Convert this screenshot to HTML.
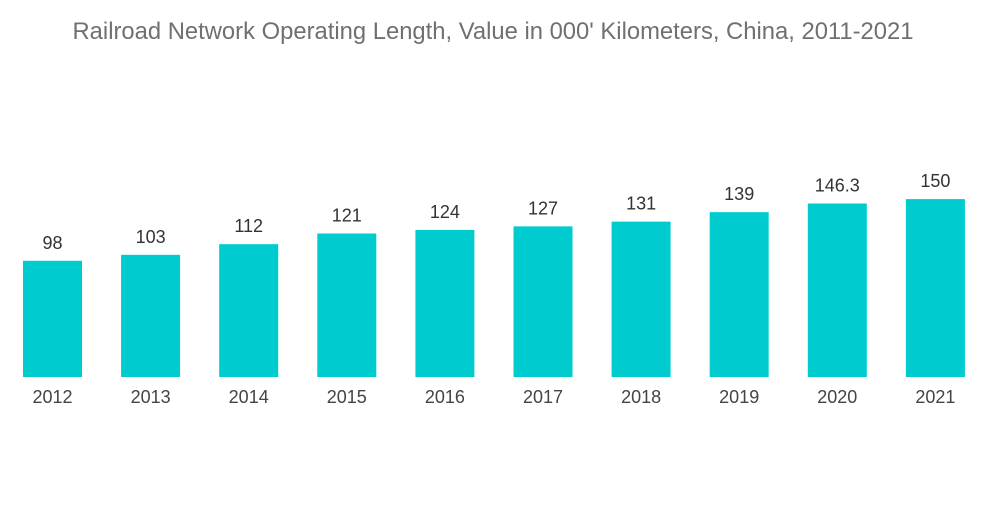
<!DOCTYPE html>
<html><head><meta charset="utf-8"><style>
body{margin:0;background:#fff;width:1000px;height:504px;overflow:hidden;font-family:"Liberation Sans",sans-serif}
</style></head><body>
<svg width="1000" height="504">
<text x="493" y="39" text-anchor="middle" font-size="23.8" fill="#707070">Railroad Network Operating Length, Value in 000' Kilometers, China, 2011-2021</text>
<g id="bars"></g>
</svg>
<script>
const categories=["2012","2013","2014","2015","2016","2017","2018","2019","2020","2021"];
const values=[98,103,112,121,124,127,131,139,146.3,150];
const labels=["98","103","112","121","124","127","131","139","146.3","150"];
const g=document.getElementById('bars');
const ns="http://www.w3.org/2000/svg";
const baseY=377, scale=1.186, x0=23, step=98.1, bw=59;
const y=v=>baseY-v*scale;
const xPos=i=>x0+i*step;
categories.forEach((c,i)=>{
  const r=document.createElementNS(ns,'rect');
  r.setAttribute('x',xPos(i));r.setAttribute('y',y(values[i]));
  r.setAttribute('width',bw);r.setAttribute('height',baseY-y(values[i]));
  r.setAttribute('fill','#00cccf');
  
  
  g.appendChild(r);
  const t=document.createElementNS(ns,'text');
  t.setAttribute('x',xPos(i)+bw/2);t.setAttribute('y',y(values[i])-12);
  t.setAttribute('text-anchor','middle');t.setAttribute('font-size','18');t.setAttribute('fill','#333');
  t.textContent=labels[i];
  
  
  g.appendChild(t);
  const a=document.createElementNS(ns,'text');
  a.setAttribute('x',xPos(i)+bw/2);a.setAttribute('y',403);
  a.setAttribute('text-anchor','middle');a.setAttribute('font-size','18');a.setAttribute('fill','#444');
  a.textContent=c;
  
  
  g.appendChild(a);
});
</script>
</body></html>
